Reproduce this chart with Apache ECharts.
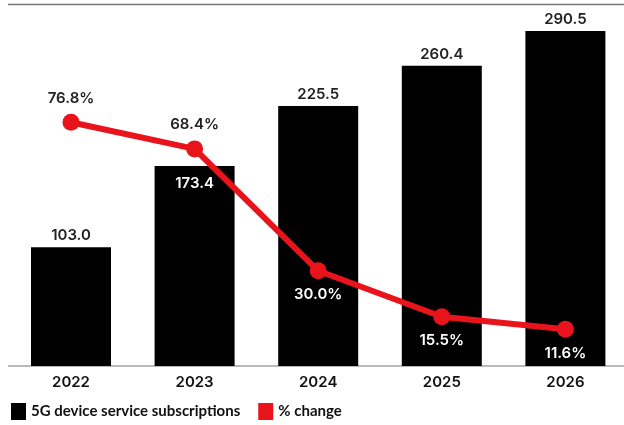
<!DOCTYPE html>
<html>
<head>
<meta charset="utf-8">
<script src="https://cdn.jsdelivr.net/npm/echarts@6/dist/echarts.min.js"></script>
<style>html,body{margin:0;padding:0;background:#fff;overflow:hidden}#c{width:640px;height:425px}</style>
</head>
<body>
<div id="c"></div>
<script>
const categories = ['2022', '2023', '2024', '2025', '2026'];
const subscriptions = [103.0, 173.4, 225.5, 260.4, 290.5];
const pctChange = [76.8, 68.4, 30.0, 15.5, 11.6];
const seriesNames = ['5G device service subscriptions', '% change'];

const FONT = 'Inter';
const chart = echarts.init(document.getElementById('c'));
chart.setOption({
  animation: false,
  backgroundColor: '#fff',
  textStyle: { fontFamily: FONT },
  grid: { left: 9.2, width: 618, top: 20, bottom: 59 },
  legend: {
    left: 6, top: 398, itemWidth: 15, itemHeight: 17, itemGap: 18,
    textStyle: { fontFamily: 'Lato', fontSize: 15, fontWeight: 'bold', color: '#111' },
    data: [{ name: seriesNames[0], icon: 'rect' }, { name: seriesNames[1], icon: 'rect' }]
  },
  graphic: [{
    type: 'line', shape: { x1: 8, y1: 4.5, x2: 624, y2: 4.5 },
    style: { stroke: '#777', lineWidth: 1.5 }
  }, {
    type: 'line', shape: { x1: 8, y1: 366, x2: 624, y2: 366 },
    style: { stroke: '#777', lineWidth: 1.2 }
  }],
  xAxis: {
    type: 'category', data: categories,
    axisLine: { show: false },
    axisTick: { show: false },
    axisLabel: { color: '#111', fontSize: 15, fontWeight: 600, fontFamily: FONT, margin: 9 }
  },
  yAxis: [
    { type: 'value', min: 0, max: 300, show: false, splitLine: { show: false } },
    { type: 'value', min: 0, max: 109, show: false, splitLine: { show: false } }
  ],
  series: [
    {
      name: seriesNames[0], type: 'bar', yAxisIndex: 0, barWidth: 80,
      data: subscriptions.map((v, i) => i === 1 ? {
        value: v,
        label: { position: 'insideTop', distance: 10, color: '#fff' }
      } : v),
      itemStyle: { color: '#000' },
      label: {
        show: true, position: 'top', distance: 4,
        formatter: p => p.value.toFixed(1),
        color: '#222', fontSize: 15, fontWeight: 600, fontFamily: FONT
      }
    },
    {
      name: seriesNames[1], type: 'line', yAxisIndex: 1,
      data: pctChange.map((v, i) => i >= 2 ? {
        value: v,
        label: { position: 'bottom', distance: 8, color: '#fff' }
      } : v),
      lineStyle: { color: '#e8131b', width: 6 },
      itemStyle: { color: '#e8131b' },
      symbol: 'circle', symbolSize: 17,
      z: 5,
      label: {
        show: true, position: 'top', distance: 8,
        formatter: p => p.value.toFixed(1) + '%',
        color: '#222', fontSize: 15, fontWeight: 600, fontFamily: FONT
      }
    }
  ]
});
</script>
</body>
</html>
